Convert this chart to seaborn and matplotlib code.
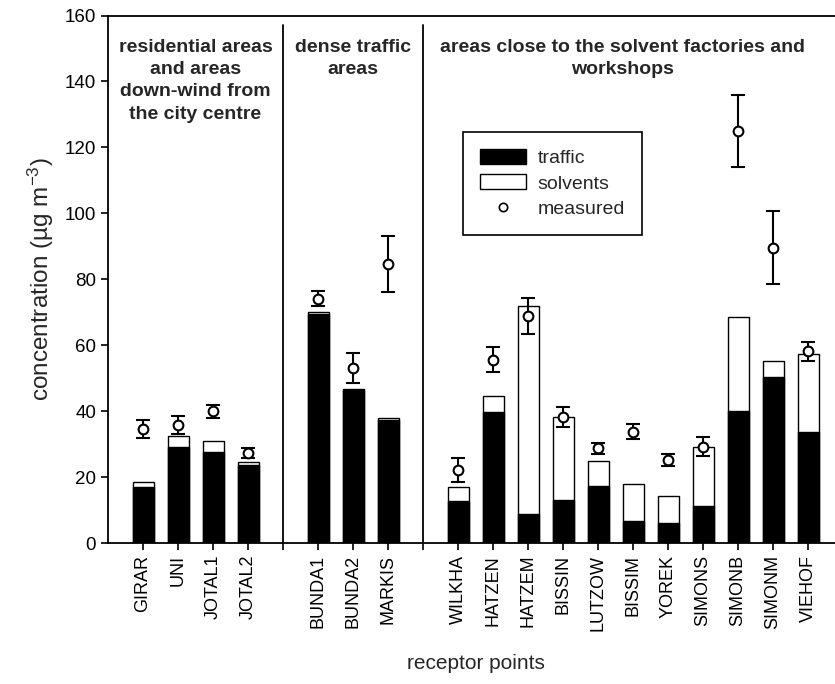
import numpy as np
import pandas as pd
import matplotlib
matplotlib.use("Agg")
import matplotlib.pyplot as plt
import seaborn as sns
from matplotlib.patches import Patch
from matplotlib.lines import Line2D

# receptor points (posiciones con hueco entre grupos)
puntos = ["GIRAR", "UNI", "JOTAL1", "JOTAL2",
          "BUNDA1", "BUNDA2", "MARKIS",
          "WILKHA", "HATZEN", "HATZEM", "BISSIN", "LUTZOW", "BISSIM",
          "YOREK", "SIMONS", "SIMONB", "SIMONM", "VIEHOF"]
posiciones = [1, 2, 3, 4, 6, 7, 8, 10, 11, 12, 13, 14, 15, 16, 17, 18, 19, 20]

# contribuciones calculadas (ug m-3)
trafico = [17, 29, 27.5, 23.7, 69.5, 46.5, 37.3,
           12.7, 39.7, 8.8, 13, 17.3, 6.7, 6, 11.3, 40, 50.5, 33.8]
total = [18.6, 32.5, 31, 24.5, 70, 46.8, 38,
         17.1, 44.7, 72, 38.2, 25, 17.8, 14.3, 29.2, 68.4, 55.3, 57.3]

# medido y su error
medido = [34.5, 35.8, 39.9, 27.4, 74.1, 53, 84.7,
          22.2, 55.6, 68.9, 38.2, 28.7, 33.8, 25.2, 29.2, 124.9, 89.6, 58.1]
error = [2.7, 2.6, 2.0, 1.5, 2.3, 4.5, 8.5,
         3.6, 3.8, 5.5, 3.0, 1.7, 2.2, 1.8, 2.9, 11, 11, 3.0]

grupos = ["residential areas\nand areas\ndown-wind from\nthe city centre",
          "dense traffic\nareas",
          "areas close to the solvent factories and\nworkshops"]
centros_grupo = [2.5, 7, 14.7]
separadores = [5, 9]

df = pd.DataFrame({"pos": posiciones, "traffic": trafico, "total": total})

sns.set_style("ticks")
plt.rcParams["font.family"] = ["Liberation Sans", "DejaVu Sans"]
plt.rcParams["mathtext.default"] = "regular"

fig = plt.figure(figsize=(8.35, 6.84), dpi=100)
ax = fig.add_axes([108 / 835, 141 / 684, 735 / 835, 527.5 / 684])

# barras: total en blanco (solvents) y trafico en negro encima
sns.barplot(data=df, x="pos", y="total", native_scale=True, width=0.6,
            color="white", edgecolor="black", linewidth=1, saturation=1,
            errorbar=None, ax=ax)
sns.barplot(data=df, x="pos", y="traffic", native_scale=True, width=0.6,
            color="black", edgecolor="black", linewidth=1, saturation=1,
            errorbar=None, ax=ax)

# valores medidos con barras de error
ax.errorbar(posiciones, medido, yerr=error, fmt="o", color="black",
            mfc="white", mec="black", ms=7, mew=1.5, elinewidth=1.5,
            capsize=5, capthick=1.5, zorder=5)

# separadores de grupos
for s in separadores:
    ax.plot([s, s], [0, 157], color="black", lw=1.3, clip_on=False)

for txt, c in zip(grupos, centros_grupo):
    ax.text(c, 153, txt, ha="center", va="top", fontsize=14,
            fontweight="bold", linespacing=1.42)

ax.set_xlim(0, 21)
ax.set_ylim(0, 160)
ax.set_yticks(np.arange(0, 161, 20))
ax.set_xticks(list(range(1, 21)))
etiquetas = []
for p in range(1, 21):
    etiquetas.append(puntos[posiciones.index(p)] if p in posiciones else "")
ax.set_xticklabels(etiquetas, rotation=90, fontsize=13)
ax.tick_params(axis="y", labelsize=13.5)
ax.tick_params(direction="out", length=5, width=1.2, colors="black")
for lado in ["left", "bottom", "top"]:
    ax.spines[lado].set_linewidth(1.3)
    ax.spines[lado].set_color("black")
ax.spines["right"].set_visible(False)

ax.set_xlabel("receptor points", fontsize=15, labelpad=17)
ax.set_ylabel("concentration (µg m$^{-3}$)", fontsize=17.5, labelpad=6)

manejadores = [Patch(facecolor="black", edgecolor="black", label="traffic"),
               Patch(facecolor="white", edgecolor="black", label="solvents"),
               Line2D([], [], marker="o", ls="", mfc="white", mec="black",
                      ms=6, mew=1.2, label="measured")]
leg = ax.legend(handles=manejadores, loc="upper left",
                bbox_to_anchor=(0.483, 0.779), fontsize=14, frameon=True,
                fancybox=False, framealpha=1, edgecolor="black",
                handlelength=2.4, handleheight=0.82, labelspacing=0.38,
                borderpad=0.85, handletextpad=0.6, borderaxespad=0)
leg.get_frame().set_linewidth(1.2)

fig.savefig("out.png", dpi=100)
